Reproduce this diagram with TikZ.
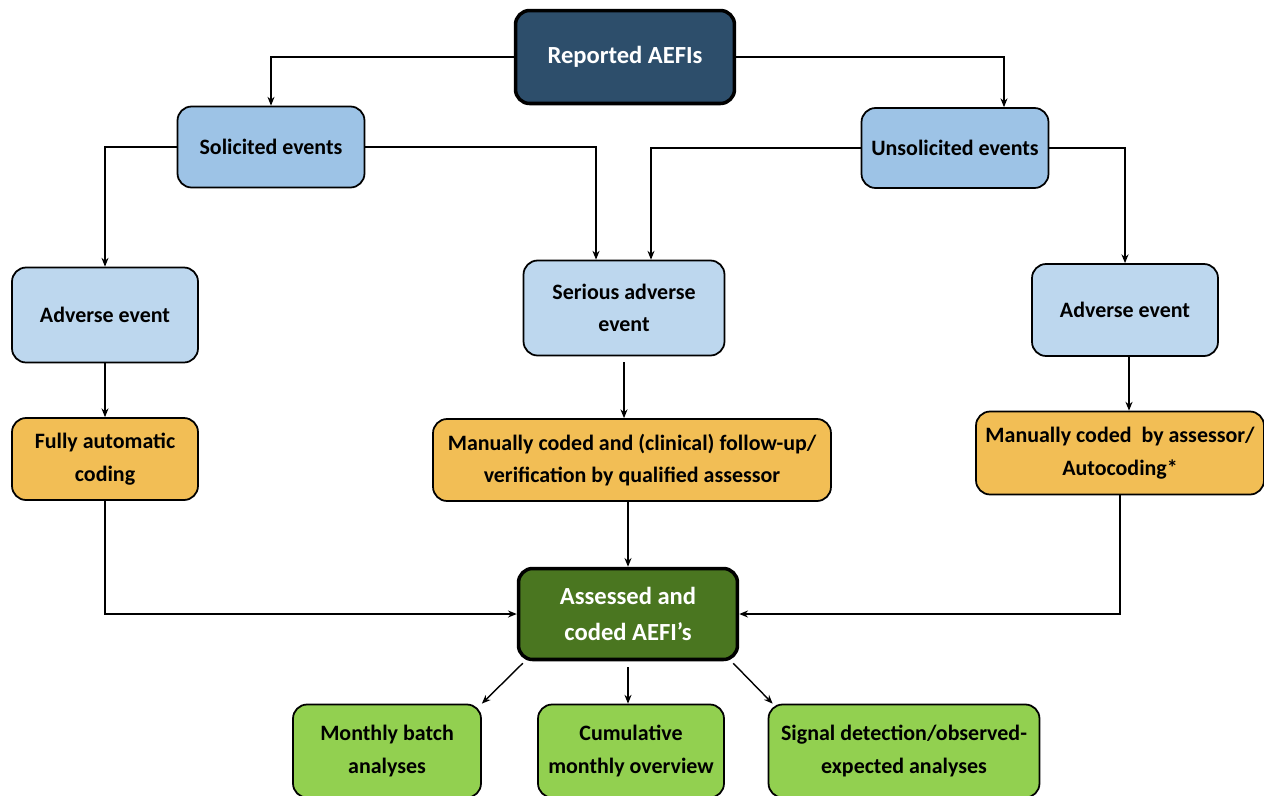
\documentclass[tikz,border=0pt]{standalone}
\usepackage{fontspec}
\setmainfont{Carlito}
\usetikzlibrary{arrows.meta}

\definecolor{topblue}{HTML}{2D4E6B}
\definecolor{midblue}{HTML}{9DC3E6}
\definecolor{paleblue}{HTML}{BDD7EE}
\definecolor{codeorange}{HTML}{F2BE55}
\definecolor{darkgreen}{HTML}{4A7620}
\definecolor{lightgreen}{HTML}{92D050}

\tikzset{
  box/.style={draw=black, rounded corners=8pt, line width=1pt, align=center,
    font=\fontsize{12.5}{18.5}\selectfont\bfseries, inner sep=2pt},
  darkbox/.style={box, line width=2pt, text=white, font=\fontsize{14}{20}\selectfont\bfseries},
  link/.style={-{Stealth[length=5pt,width=4pt]}, line width=0.8pt},
}

\begin{document}
\begin{tikzpicture}[x=0.02cm, y=-0.02cm]
  \useasboundingbox (0,0) rectangle (1264,795);

  % Top level
  \node[darkbox, fill=topblue, minimum width=4.38cm, minimum height=1.86cm] (reported) at (625,57) {Reported AEFIs};

  % Solicited / unsolicited
  \node[box, fill=midblue, minimum width=3.74cm, minimum height=1.62cm] (solicited) at (271,147) {Solicited events};
  \node[box, fill=midblue, minimum width=3.74cm, minimum height=1.60cm] (unsolicited) at (955,148) {Unsolicited events};

  % Event types
  \node[box, fill=paleblue, minimum width=3.72cm, minimum height=1.90cm] (aeleft) at (105,315) {Adverse event};
  \node[box, fill=paleblue, minimum width=4.02cm, minimum height=1.90cm] (serious) at (624,308) {Serious adverse\\event};
  \node[box, fill=paleblue, minimum width=3.72cm, minimum height=1.84cm] (aeright) at (1125,310) {Adverse event};

  % Coding
  \node[box, fill=codeorange, minimum width=3.72cm, minimum height=1.64cm] (auto) at (105,459) {Fully automatic\\coding};
  \node[box, fill=codeorange, minimum width=7.96cm, minimum height=1.64cm] (manual) at (632,460) {Manually coded and (clinical) follow-up/\\verification by qualified assessor};
  \node[box, fill=codeorange, minimum width=5.76cm, minimum height=1.66cm] (mixed) at (1120,453) {Manually coded\ \ by assessor/\\Autocoding*};

  % Result
  \node[darkbox, fill=darkgreen, minimum width=4.38cm, minimum height=1.82cm] (assessed) at (628,614) {Assessed and\\coded AEFI’s};

  % Outputs
  \node[box, fill=lightgreen, minimum width=3.76cm, minimum height=1.86cm] (batch) at (387,751) {Monthly batch\\analyses};
  \node[box, fill=lightgreen, minimum width=3.72cm, minimum height=1.86cm] (cumul) at (631,751) {Cumulative\\monthly overview};
  \node[box, fill=lightgreen, minimum width=5.42cm, minimum height=1.86cm] (signal) at (904,751) {Signal detection/observed-\\expected analyses};

  % Connectors
  \draw[link] (reported.west) -| (solicited.north);
  \draw[link] (reported.east) -| ([xshift=0.98cm]unsolicited.north);
  \draw[link] (solicited.west) -| (aeleft.north);
  \draw[link] (solicited.east) -| ([xshift=-0.56cm]serious.north);
  \draw[link] (unsolicited.west) -| ([xshift=0.54cm]serious.north);
  \draw[link] (unsolicited.east) -| (aeright.north);
  \draw[link] (aeleft) -- (auto);
  \draw[link] ([yshift=-0.12cm]serious.south) -- (serious.south |- manual.north);
  \draw[link] ([xshift=0.08cm]aeright.south) -- ([xshift=0.08cm]aeright.south |- mixed.north);
  \draw[link] (auto.south) |- (assessed.west);
  \draw[link] (manual.south -| assessed.north) -- (assessed.north);
  \draw[link] (mixed.south) |- (assessed.east);
  \draw[link] ([shift={(0.12cm,-0.04cm)}]assessed.south west) -- (batch.north east);
  \draw[link] ([yshift=-0.12cm]assessed.south) -- (assessed.south |- cumul.north);
  \draw[link] ([shift={(-0.12cm,-0.04cm)}]assessed.south east) -- ([xshift=0.1cm]signal.north west);

\end{tikzpicture}
\end{document}
